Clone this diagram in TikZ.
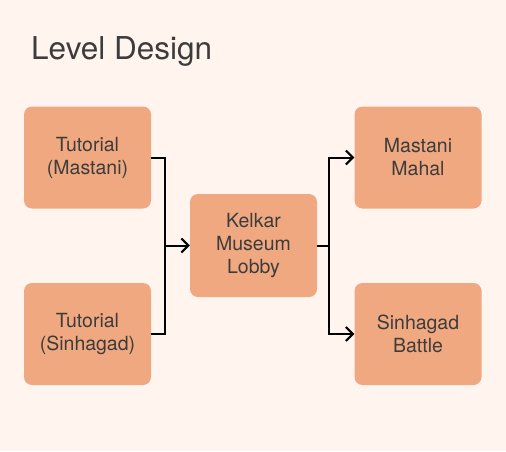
\documentclass[tikz,border=0pt]{standalone}
\usepackage{fontspec}
\setmainfont{TeX Gyre Heros}
\usetikzlibrary{arrows.meta}
\definecolor{bgc}{HTML}{FFF4EE}
\definecolor{boxc}{HTML}{F0A880}
\definecolor{txtc}{HTML}{3C3C3C}
\tikzset{
  lvl/.style={fill=boxc, rounded corners=8pt, minimum width=127pt, minimum height=102pt,
    align=center, text=txtc, font=\fontsize{19.5}{23}\selectfont, inner sep=0pt},
  conn/.style={draw=black, line width=2pt},
  arr/.style={conn, -{Straight Barb[length=7pt,width=14pt,line width=2pt]}}
}
\begin{document}
\begin{tikzpicture}[x=1pt,y=-1pt]
\fill[bgc] (0,0) rectangle (506,451);
\useasboundingbox (0,0) rectangle (506,451);
\node[anchor=base west, text=txtc, font=\fontsize{31.5}{36}\selectfont, inner sep=0pt] (title) at (31,59) {Level Design};
\node[lvl] (tm) at (87.5,157.5) {Tutorial\\(Mastani)};
\node[lvl] (ts) at (87.5,334) {Tutorial\\(Sinhagad)};
\node[lvl, minimum height=103pt] (kl) at (253.5,245.5) {Kelkar\\Museum\\Lobby};
\node[lvl] (mm) at (418,157.5) {Mastani\\Mahal};
\node[lvl] (sb) at (418,334) {Sinhagad\\Battle};
\coordinate (jl) at (165,245.5);
\coordinate (jr) at (329,245.5);
\draw[conn] (tm.east) -| (jl);
\draw[conn] (ts.east) -| (jl);
\draw[arr] (jl) -- (kl.west);
\draw[conn] (kl.east) -- (jr);
\draw[arr] (jr) |- (mm.west);
\draw[arr] (jr) |- (sb.west);
\end{tikzpicture}
\end{document}
